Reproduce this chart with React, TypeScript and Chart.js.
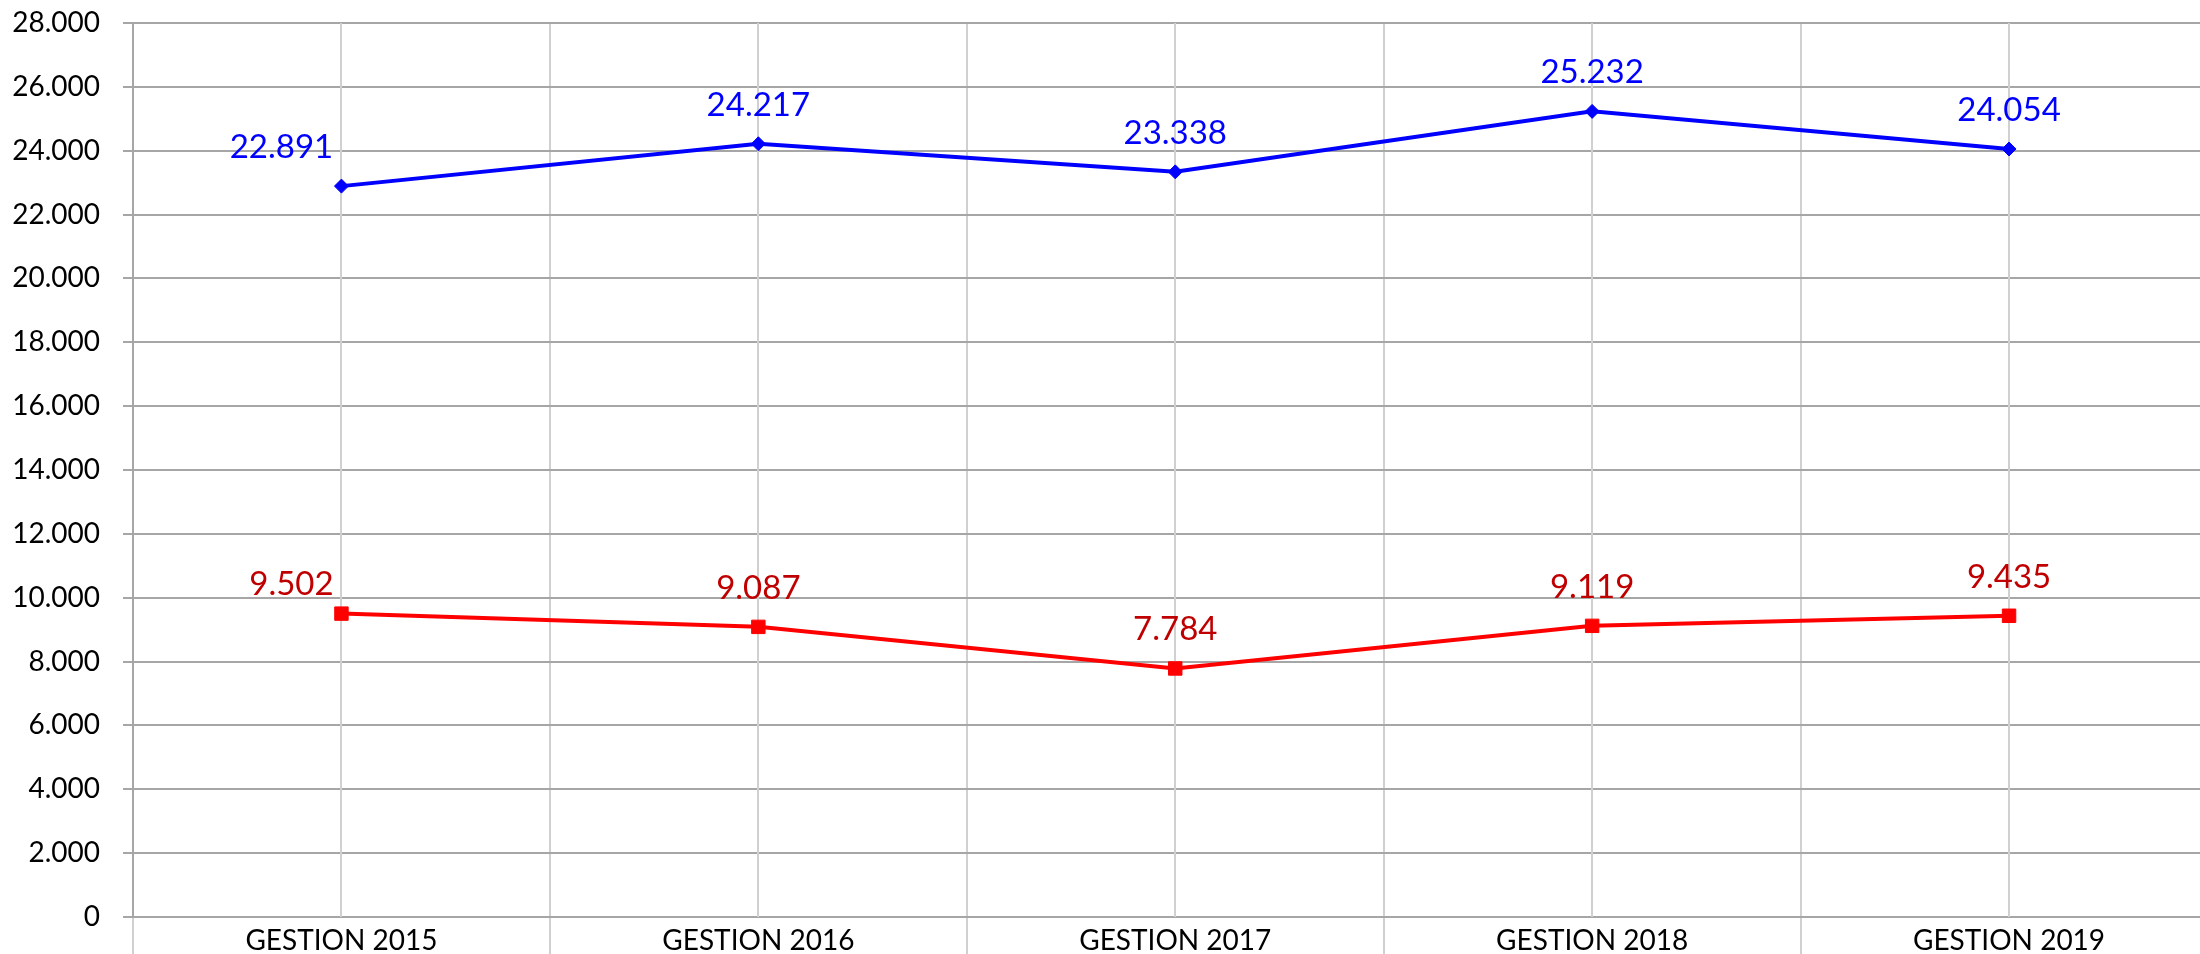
import React, { useEffect, useRef } from "react";
import { Chart, registerables } from "chart.js";

Chart.register(...registerables);

const categories = ["GESTION 2015", "GESTION 2016", "GESTION 2017", "GESTION 2018", "GESTION 2019"];
const blueSeries = [22891, 24217, 23338, 25232, 24054];
const redSeries = [9502, 9087, 7784, 9119, 9435];
const yMin = 0;
const yMax = 28000;
const yStep = 2000;

// label placement relative to each point (dx, baseline dy)
const blueLabelOffsets = [[-60, -28], [0, -28], [0, -28], [0, -28], [0, -28]];
const redLabelOffsets = [[-50, -19], [0, -28], [0, -28], [0, -28], [0, -28]];

const CANVAS_W = 2228;
const CANVAS_H = 954;

function fmt(v: number): string {
  const s = Math.round(v).toString();
  return s.replace(/\B(?=(\d{3})+(?!\d))/g, ".");
}

const centerLinesPlugin = {
  id: "centerLines",
  beforeDatasetsDraw(chart: any) {
    const { ctx, chartArea, scales } = chart;
    const x = scales.x;
    ctx.save();
    ctx.strokeStyle = "#d0d0d0";
    ctx.lineWidth = 2;
    categories.forEach((_, i) => {
      const px = Math.round(x.getPixelForValue(i));
      ctx.beginPath();
      ctx.moveTo(px, chartArea.top);
      ctx.lineTo(px, chartArea.bottom);
      ctx.stroke();
    });
    ctx.restore();
  },
};

const dataLabelsPlugin = {
  id: "dataLabelsCustom",
  afterDatasetsDraw(chart: any) {
    const { ctx } = chart;
    const configs = [
      { color: "#0000FF", offsets: blueLabelOffsets },
      { color: "#C00000", offsets: redLabelOffsets },
    ];
    ctx.save();
    ctx.font = "33px Lato";
    ctx.textAlign = "center";
    ctx.textBaseline = "alphabetic";
    chart.data.datasets.forEach((ds: any, di: number) => {
      const meta = chart.getDatasetMeta(di);
      const cfg = configs[di];
      ctx.fillStyle = cfg.color;
      meta.data.forEach((pt: any, i: number) => {
        const [dx, dy] = cfg.offsets[i];
        ctx.fillText(fmt(ds.data[i]), pt.x + dx, pt.y + dy);
      });
    });
    ctx.restore();
  },
};

export default function App() {
  const ref = useRef<HTMLCanvasElement>(null);
  useEffect(() => {
    if (!ref.current) return;
    const chart = new Chart(ref.current, {
      type: "line",
      data: {
        labels: categories,
        datasets: [
          {
            label: "Serie 1",
            data: blueSeries,
            borderColor: "#0000FF",
            backgroundColor: "#0000FF",
            borderWidth: 4,
            pointStyle: "rectRot",
            pointRadius: 7,
            pointBorderWidth: 1,
            pointBackgroundColor: "#0000FF",
            pointBorderColor: "#0000FF",
            tension: 0,
          },
          {
            label: "Serie 2",
            data: redSeries,
            borderColor: "#FF0000",
            backgroundColor: "#FF0000",
            borderWidth: 4,
            pointStyle: "rect",
            pointRadius: 9.5,
            pointBorderWidth: 1,
            pointBackgroundColor: "#FF0000",
            pointBorderColor: "#FF0000",
            tension: 0,
          },
        ],
      },
      options: {
        responsive: false,
        maintainAspectRatio: false,
        animation: false,
        layout: { padding: { top: 23, left: 0, right: 0, bottom: 0 } },
        plugins: {
          legend: { display: false },
          tooltip: { enabled: false },
        },
        scales: {
          x: {
            type: "category",
            offset: true,
            grid: {
              offset: true,
              color: "#d0d0d0",
              lineWidth: 2,
              tickLength: 37,
              drawOnChartArea: true,
            },
            border: { color: "#a6a6a6", width: 2 },
            ticks: {
              font: { family: "Lato", size: 28 },
              color: "#000000",
              padding: -30,
              maxRotation: 0,
              autoSkip: false,
            },
            afterFit: (s: any) => {
              s.height = 37;
              s.paddingLeft = 0;
              s.paddingRight = 0;
            },
          },
          y: {
            min: yMin,
            max: yMax,
            ticks: {
              stepSize: yStep,
              font: { family: "Lato", size: 28 },
              color: "#000000",
              padding: 23,
              callback: (v: any) => fmt(Number(v)),
            },
            grid: { color: "#a6a6a6", lineWidth: 2, tickLength: 10 },
            border: { color: "#a6a6a6", width: 2 },
            afterFit: (s: any) => {
              s.width = 133;
              s.paddingTop = 0;
              s.paddingBottom = 0;
            },
          },
        },
      },
      plugins: [centerLinesPlugin, dataLabelsPlugin],
    } as any);
    return () => chart.destroy();
  }, []);
  return (
    <div
      style={{
        position: "fixed",
        left: 0,
        top: 0,
        width: 2200,
        height: 954,
        overflow: "hidden",
        background: "#ffffff",
      }}
    >
      <div style={{ width: CANVAS_W, height: CANVAS_H, position: "relative" }}>
        <canvas
          ref={ref}
          width={CANVAS_W}
          height={CANVAS_H}
          style={{ display: "block", width: CANVAS_W, height: CANVAS_H }}
        />
      </div>
    </div>
  );
}
